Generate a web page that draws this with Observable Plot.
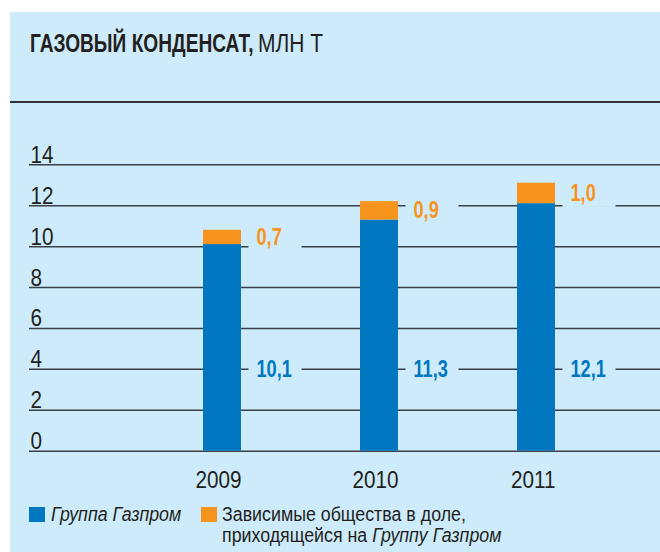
<!DOCTYPE html>
<html>
<head>
<meta charset="utf-8">
<script src="https://cdn.jsdelivr.net/npm/d3@7"></script>
<script src="https://cdn.jsdelivr.net/npm/@observablehq/plot@0.6"></script>
<style>
  html, body { margin: 0; padding: 0; background: #ffffff; }
  body { width: 660px; height: 552px; position: relative; overflow: hidden;
         font-family: "Liberation Sans", Arial, sans-serif; color: #231f20; }
  #panel { position: absolute; left: 10px; top: 12px; width: 650px; height: 540px; background: #cdebfa; }
  .tt { position: absolute; top: 19px; font-size: 25px; line-height: 25px; white-space: nowrap; transform-origin: 0 0; }
  #t1 { left: 20px; font-weight: bold; transform: scaleX(0.765); }
  #t2 { left: 248px; transform: scaleX(0.84); }
  #rule { position: absolute; left: 0; top: 89px; width: 650px; height: 2px; background: #2f3338; }
  #chart { position: absolute; left: 0; top: 118px; }
  .leg { position: absolute; font-size: 20px; line-height: 21px; white-space: nowrap;
         transform: scaleX(0.89); transform-origin: 0 0; }
  .sw { position: absolute; width: 16px; height: 15px; }
</style>
</head>
<body>
<div id="panel">
  <div class="tt" id="t1">ГАЗОВЫЙ КОНДЕНСАТ,</div>
  <div class="tt" id="t2">МЛН Т</div>
  <div id="rule"></div>
  <div id="chart"></div>
  <div id="legend"></div>
</div>
<script>
// ---- data ----
const years = ["2009", "2010", "2011"];
const gazprom = [10.1, 11.3, 12.1];
const associates = [0.7, 0.9, 1.0];
const yTicks = [0, 2, 4, 6, 8, 10, 12, 14];
const seriesNames = ["Группа Газпром", "Зависимые общества в доле, приходящейся на Группу Газпром"];
const seriesColors = ["#0077c0", "#f7941d"];
const blueLabelLevel = 4;

// ---- build tables ----
const rows = [];
years.forEach((y, i) => {
  rows.push({year: y, series: seriesNames[0], value: gazprom[i]});
  rows.push({year: y, series: seriesNames[1], value: associates[i]});
});
const fmt = v => d3.format(".1f")(v).replace(".", ",");
const labels = [];
years.forEach((y, i) => {
  labels.push({year: y, ly: blueLabelLevel, text: fmt(gazprom[i]), color: seriesColors[0]});
  labels.push({year: y, ly: gazprom[i] + associates[i] / 2, text: fmt(associates[i]), color: seriesColors[1]});
});

const BG = "#cdebfa";
const GRID = "#3a3f44";
const FONT = "'Liberation Sans', Arial, sans-serif";

const chart = Plot.plot({
  width: 650,
  height: 370,
  marginTop: 34.3,
  marginBottom: 49.3,
  marginLeft: 19,
  marginRight: 0,
  style: {background: "transparent", fontFamily: FONT, overflow: "visible"},
  x: {domain: years, range: [192, 545], paddingInner: 0.7587, paddingOuter: 0, axis: null},
  y: {domain: [0, 14], axis: null},
  color: {domain: seriesNames, range: seriesColors},
  marks: [
    Plot.ruleY(yTicks, {stroke: GRID, strokeWidth: 1.5}),
    // gaps in the gridlines behind the value labels
    Plot.barY(labels, {x: "year", y1: "ly", y2: "ly", fill: BG,
      insetLeft: 45.5, insetRight: -60.5, insetTop: -14, insetBottom: -14}),
    Plot.barY(rows, {x: "year", y: "value", fill: "series"}),
    Plot.text(yTicks, {y: d => d, frameAnchor: "left", textAnchor: "start", lineAnchor: "bottom",
      dx: 1, dy: -2, text: d => String(d), fontSize: 23, fill: "#231f20"}),
    Plot.text(years, {x: d => d, y: () => 0, textAnchor: "end", lineAnchor: "middle",
      dx: 19, dy: 29.5, text: d => d, fontSize: 23, fill: "#231f20"}),
    Plot.text(labels, {x: "year", y: "ly", text: "text", fill: "color", textAnchor: "start",
      lineAnchor: "middle", dx: 34, fontSize: 23, fontWeight: "bold"})
  ]
});
// condensed look: narrow each text run horizontally around its anchor
chart.querySelectorAll("g[aria-label='text']").forEach(g => {
  const bold = g.getAttribute("font-weight") === "bold";
  const s = bold ? 0.79 : 0.9;
  g.querySelectorAll("text").forEach(t => {
    const tr = t.getAttribute("transform") || "";
    t.setAttribute("transform", tr + ` scale(${s},1)`);
  });
});
document.getElementById("chart").appendChild(chart);

// ---- legend ----
const legend = document.getElementById("legend");
legend.innerHTML = `
  <div class="sw" style="left:19px; top:495px; background:${seriesColors[0]}"></div>
  <div class="leg" style="left:41px; top:492px;"><i>${seriesNames[0]}</i></div>
  <div class="sw" style="left:191px; top:495px; background:${seriesColors[1]}"></div>
  <div class="leg" style="left:212px; top:492px;">Зависимые общества в доле,<br>приходящейся на <i>Группу Газпром</i></div>
`;
</script>
</body>
</html>
